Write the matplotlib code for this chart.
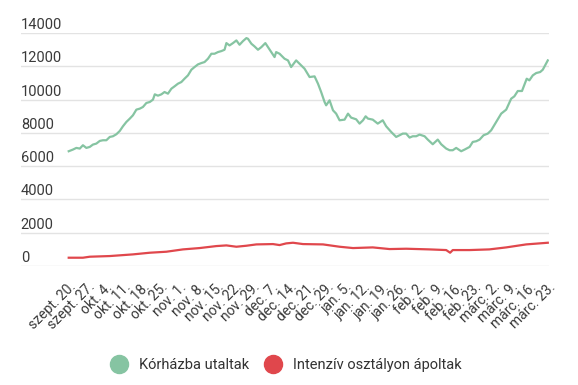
import matplotlib
matplotlib.use("Agg")
import matplotlib.pyplot as plt
from matplotlib.lines import Line2D
import matplotlib.transforms as mtransforms

plt.rcParams['font.family'] = ['Roboto', 'DejaVu Sans']

# weekly tick labels (one every 7 days, day 0 = szept. 20.)
tick_labels = ["szept. 20.", "szept. 27.", "okt. 4.", "okt. 11.", "okt. 18.", "okt. 25.",
               "nov. 1.", "nov. 8.", "nov. 15.", "nov. 22.", "nov. 29.", "dec. 7.",
               "dec. 14.", "dec. 21.", "dec. 29.", "jan. 5.", "jan. 12.", "jan. 19.",
               "jan. 26.", "feb. 2.", "feb. 9.", "feb. 16.", "feb. 23.", "márc. 2.",
               "márc. 9.", "márc. 16.", "márc. 23."]

# Kórházba utaltak (day offset, value)
green_days = [0, 1.6, 2.9, 4.2, 5.4, 6.7, 8.0, 9.2, 10.5, 11.8, 13.0, 14.3, 15.6, 16.8,
              18.1, 19.4, 20.6, 21.9, 23.2, 24.4, 25.7, 27.0, 28.2, 29.5, 30.8, 32.0,
              32.7, 33.9, 35.2, 36.4, 37.7, 39.0, 40.2, 41.5, 42.8, 44.0, 45.3, 46.6,
              47.8, 49.1, 50.4, 51.6, 52.9, 54.2, 55.4, 56.7, 58.0, 59.2, 59.9, 61.1,
              62.4, 63.7, 64.9, 66.2, 67.5, 68.1, 69.4, 70.6, 71.9, 73.2, 74.7, 75.7,
              76.9, 78.2, 78.8, 80.1, 82.0, 83.3, 84.5, 86.4, 87.7, 89.6, 91.5, 93.4,
              94.7, 95.9, 97.2, 97.8, 99.1, 100.4, 101.6, 102.9, 104.8, 106.1, 107.3,
              109.2, 110.5, 111.8, 112.8, 113.7, 115.5, 117.4, 119.3, 120.6, 122.5,
              124.4, 125.7, 126.9, 128.2, 129.5, 130.7, 132.0, 133.3, 135.2, 136.4,
              138.3, 140.2, 141.5, 143.4, 144.7, 145.9, 147.2, 149.1, 150.4, 152.3,
              153.5, 154.8, 156.1, 157.6, 159.2, 160.5, 162.4, 164.3, 166.2, 168.1,
              169.3, 170.6, 172.2, 174.0, 175.0, 176.3, 177.6, 179.1, 180.1, 182.0]
green_vals = [6900, 7000, 7100, 7060, 7260, 7100, 7160, 7300, 7360, 7520, 7560, 7560,
              7760, 7800, 7920, 8120, 8400, 8660, 8860, 9060, 9400, 9460, 9560, 9800,
              9860, 10000, 10320, 10240, 10320, 10460, 10360, 10660, 10800, 10960, 11060,
              11260, 11460, 11800, 11960, 12120, 12200, 12260, 12460, 12760, 12760, 12860,
              12920, 13000, 13400, 13260, 13400, 13560, 13300, 13520, 13700, 13660, 13360,
              13200, 13000, 13160, 13400, 13160, 12860, 12560, 12860, 12760, 12460, 12360,
              11960, 12360, 12160, 11860, 11360, 11400, 10960, 10460, 9860, 9660, 9960,
              9360, 9160, 8760, 8800, 9160, 8920, 8820, 8560, 8760, 9000, 8860, 8800,
              8560, 8760, 8400, 8060, 7760, 7860, 7960, 7960, 7720, 7800, 7800, 7900,
              7800, 7600, 7320, 7600, 7320, 7060, 6960, 6960, 7100, 6900, 7000, 7160,
              7460, 7500, 7600, 7860, 7960, 8160, 8660, 9160, 9400, 10060, 10200, 10520,
              10520, 11260, 11160, 11460, 11600, 11660, 11800, 12360]

# Intenzív osztályon ápoltak (day offset, value)
red_days = [0, 5.4, 8.0, 15.6, 24.4, 30.8, 37.1, 43.4, 49.7, 56.1, 59.9, 63.7, 67.5,
            71.3, 77.6, 80.1, 82.6, 85.2, 89.0, 96.6, 102.9, 108.0, 115.5, 121.9,
            128.2, 137.0, 143.4, 144.9, 145.9, 152.3, 159.8, 166.2, 173.8, 182.0]
red_vals = [500, 500, 560, 600, 700, 800, 860, 1000, 1080, 1200, 1240, 1160, 1220,
            1300, 1320, 1260, 1360, 1400, 1320, 1300, 1160, 1080, 1120, 1020, 1040,
            1000, 960, 800, 960, 960, 1000, 1120, 1300, 1400]

series_names = ["Kórházba utaltak", "Intenzív osztályon ápoltak"]
green = "#86c4a2"
red = "#e0474c"

fig = plt.figure(figsize=(5.78, 3.85), dpi=100)
ax = fig.add_axes([0.036, 0.309, 0.914, 0.605])

ax.plot(green_days, green_vals, color=green, lw=1.6, solid_joinstyle="round")
ax.plot(red_days, red_vals, color=red, lw=1.6, solid_joinstyle="round")

ax.set_xlim(-18.2, 182.5)
ax.set_ylim(0, 14000)
for s in ax.spines.values():
    s.set_visible(False)

yticks = list(range(0, 14001, 2000))
ax.set_yticks(yticks)
ax.set_yticklabels([])
ax.tick_params(axis="y", length=0)
ax.grid(axis="y", color="#e3e3e3", lw=1)
ax.set_axisbelow(True)
trans = mtransforms.blended_transform_factory(ax.transAxes, ax.transData)
for v in yticks:
    ax.text(0.0, v + 480, str(v), transform=trans, ha="left", va="center",
            fontsize=10.5, color="#3a3a3a", clip_on=False)

ax.set_xticks([7 * i for i in range(len(tick_labels))])
ax.set_xticklabels(tick_labels, rotation=45, ha="right", rotation_mode="anchor",
                   fontsize=10, color="#3a3a3a")
ax.tick_params(axis="x", length=0, pad=10)

handles = [Line2D([], [], marker="o", ls="", color=green, markersize=13),
           Line2D([], [], marker="o", ls="", color=red, markersize=13)]
fig.legend(handles, series_names, loc="center", bbox_to_anchor=(0.49, 0.052), ncol=2,
           frameon=False, fontsize=10.5, handletextpad=0.4, columnspacing=0.6,
           labelcolor="#333333")

fig.savefig("out.png", dpi=100)
